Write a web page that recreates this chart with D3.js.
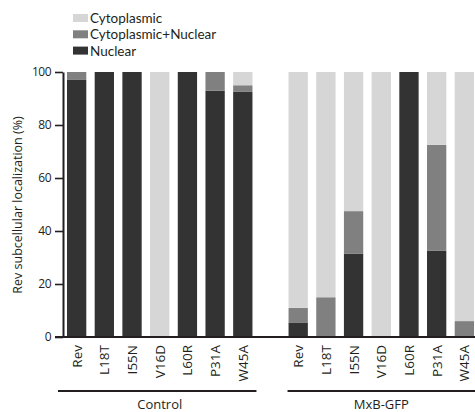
<!DOCTYPE html>
<html><head><meta charset="utf-8">
<script src="https://cdn.jsdelivr.net/npm/d3@7"></script>
<style>body{margin:0;background:#fff}svg{display:block}text{font-family:"Open Sans",sans-serif;fill:#231f20}</style>
</head><body>
<svg id="c" width="475" height="412"></svg>
<script>
const mutants = ["Rev","L18T","I55N","V16D","L60R","P31A","W45A"];
const groups = ["Control","MxB-GFP"];
const seriesNames = ["Nuclear","Cytoplasmic+Nuclear","Cytoplasmic"];
const controlNuclear = [97,100,100,0,100,93,92.5];
const controlCytoNuc = [3,0,0,0,0,7,2.5];
const controlCyto    = [0,0,0,100,0,0,5];
const mxbNuclear = [5.5,0,31.5,0,100,32.5,0];
const mxbCytoNuc = [5.5,15,16,0,0,40,6];
const mxbCyto    = [89,85,52.5,100,0,27.5,94];
const yTicks = [0,20,40,60,80,100];
const colors = {"Cytoplasmic":"#d6d6d6","Cytoplasmic+Nuclear":"#808080","Nuclear":"#333333"};
const legendOrder = ["Cytoplasmic","Cytoplasmic+Nuclear","Nuclear"];

const rows = [];
mutants.forEach((m,i)=>rows.push({id:"c"+i,label:m,group:0,"Nuclear":controlNuclear[i],"Cytoplasmic+Nuclear":controlCytoNuc[i],"Cytoplasmic":controlCyto[i]}));
mutants.forEach((m,i)=>rows.push({id:"m"+i,label:m,group:1,"Nuclear":mxbNuclear[i],"Cytoplasmic+Nuclear":mxbCytoNuc[i],"Cytoplasmic":mxbCyto[i]}));
const domain = rows.slice(0,7).map(d=>d.id).concat(["gap"]).concat(rows.slice(7).map(d=>d.id));

const svg = d3.select("#c");
const x = d3.scaleBand().domain(domain).range([63,478]).paddingInner(0.303).paddingOuter(0.144);
const y = d3.scaleLinear().domain([0,100]).range([337,72]);

const stack = d3.stack().keys(seriesNames)(rows);
svg.append("g").selectAll("g").data(stack).join("g")
  .attr("fill",d=>colors[d.key])
  .selectAll("rect").data(d=>d).join("rect")
  .attr("x",d=>x(d.data.id)).attr("width",x.bandwidth())
  .attr("y",d=>y(d[1])).attr("height",d=>y(d[0])-y(d[1]));

// y axis
const ya = svg.append("g").attr("transform","translate(63,0)")
  .call(d3.axisLeft(y).tickValues(yTicks).tickSize(8).tickPadding(4).tickSizeOuter(0));
ya.select(".domain").attr("stroke","#231f20").attr("stroke-width",2);
ya.selectAll(".tick line").attr("stroke","#231f20").attr("stroke-width",1.6);
ya.selectAll(".tick text").style("font-size","12px").attr("fill","#231f20").style("font-family","'Open Sans',sans-serif").attr("letter-spacing","-0.5");

// baseline
svg.append("line").attr("x1",55).attr("x2",475).attr("y1",y(0)).attr("y2",y(0)).attr("stroke","#231f20").attr("stroke-width",2);

// x labels
svg.append("g").selectAll("text").data(rows).join("text")
  .attr("transform",d=>`translate(${x(d.id)+x.bandwidth()/2+5},345) rotate(-90)`)
  .attr("text-anchor","end").style("font-size","13.5px").text(d=>d.label);

// group lines
groups.forEach((g,gi)=>{
  const ids = rows.filter(r=>r.group===gi).map(r=>r.id);
  const x0 = gi===0 ? 58 : x(ids[0]) - 1;
  const x1 = gi===0 ? x(ids[6])+x.bandwidth()+4 : 475;
  svg.append("line").attr("x1",x0).attr("x2",x1).attr("y1",391).attr("y2",391).attr("stroke","#231f20").attr("stroke-width",2);
  const cx = (x(ids[0]) + x(ids[6]) + x.bandwidth())/2;
  svg.append("text").attr("x",cx).attr("y",409).attr("text-anchor","middle").style("font-size","13px").text(g);
});

// y label
svg.append("text").attr("transform","translate(22,205) rotate(-90)").attr("text-anchor","middle")
  .style("font-size","12.5px").text("Rev subcellular localization (%)");

// legend
const lg = svg.append("g");
legendOrder.forEach((k,i)=>{
  lg.append("rect").attr("x",73).attr("y",14+i*16.3).attr("width",15).attr("height",8).attr("fill",colors[k]);
  lg.append("text").attr("x",90).attr("y",23+i*16.3).style("font-family","Lato,sans-serif").style("font-size","13.5px").text(k);
});
</script>
</body></html>
